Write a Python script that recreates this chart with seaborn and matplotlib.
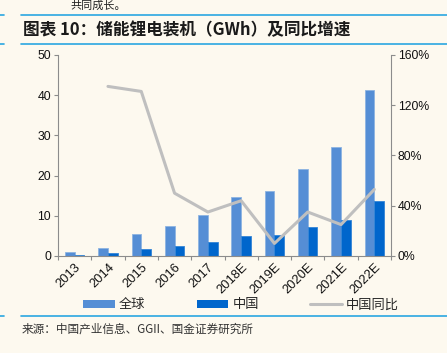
import numpy as np
import pandas as pd
import matplotlib
matplotlib.use("Agg")
import matplotlib.pyplot as plt
import seaborn as sns
from matplotlib.patches import Patch
from matplotlib.lines import Line2D
from matplotlib.ticker import FuncFormatter, FixedLocator

years = ["2013", "2014", "2015", "2016", "2017", "2018E", "2019E", "2020E", "2021E", "2022E"]
global_gwh = [1.0, 1.9, 5.4, 7.4, 10.3, 14.8, 16.2, 21.7, 27.0, 41.2]
china_gwh = [0.3, 0.7, 1.7, 2.5, 3.4, 4.9, 5.2, 7.2, 8.9, 13.6]
china_yoy = [np.nan, 135, 131, 50, 35, 44, 10, 35, 25, 53]

series_names = ["全球", "中国", "中国同比"]
title = "图表 10：储能锂电装机（GWh）及同比增速"
source = "来源：中国产业信息、GGII、国金证券研究所"

bg = "#FDF9EF"
c_global = "#558ED5"
c_china = "#0066CC"
c_line = "#BFBFBF"
c_rule = "#2AA7E1"

sns.set_theme(style="white")
plt.rcParams["font.family"] = ["Liberation Sans", "Noto Sans CJK SC", "DejaVu Sans"]
cjk = ["Noto Sans CJK SC", "DejaVu Sans"]

df = pd.DataFrame({"year": years * 2,
                   "val": global_gwh + china_gwh,
                   "s": [series_names[0]] * len(years) + [series_names[1]] * len(years)})

fig = plt.figure(figsize=(4.47, 3.53), dpi=100, facecolor=bg)
ax = fig.add_axes([0.1298, 0.2748, 0.7449, 0.5694])
ax.set_facecolor(bg)

sns.barplot(data=df, x="year", y="val", hue="s", palette=[c_global, c_china],
            width=0.58, saturation=1, ax=ax, legend=False, edgecolor="none")
for p, col in zip(ax.patches, [c_global] * 10 + [c_china] * 10):
    p.set_edgecolor("#8DB4E2" if col == c_global else "#3385D6")
    p.set_linewidth(0.6)

ax.set_xlim(-0.5, len(years) - 0.5)
ax.set_ylim(0, 50)
ax.set_yticks(range(0, 51, 10))
ax.set_xlabel("")
ax.set_ylabel("")

ax2 = ax.twinx()
sns.lineplot(x=np.arange(len(years)), y=china_yoy, color=c_line, linewidth=2.2, ax=ax2)
ax2.set_ylim(0, 160)
ax2.set_yticks(range(0, 161, 40))
ax2.yaxis.set_major_formatter(FuncFormatter(lambda v, _: f"{v:.0f}%"))

for a in (ax, ax2):
    a.spines["top"].set_visible(False)
    for side in ("left", "right", "bottom"):
        a.spines[side].set_color("#8C8C8C")
        a.spines[side].set_linewidth(0.8)
ax.spines["right"].set_visible(False)
ax2.spines["left"].set_visible(False)
ax2.spines["bottom"].set_visible(False)

ax.tick_params(axis="y", direction="out", length=3, width=0.8, color="#8C8C8C",
               labelsize=8.8, pad=2, left=True, labelcolor="#111111")
ax2.tick_params(axis="y", direction="out", length=3, width=0.8, color="#8C8C8C",
                labelsize=8.8, pad=2, right=True, labelcolor="#111111")

ax.xaxis.set_minor_locator(FixedLocator(np.arange(-0.5, len(years), 1)))
ax.tick_params(axis="x", which="minor", direction="out", length=3, width=0.8,
               color="#8C8C8C", bottom=True)
ax.tick_params(axis="x", which="major", length=0, pad=4, labelsize=9.3, labelcolor="#111111")
for lbl in ax.get_xticklabels():
    lbl.set_rotation(45)
    lbl.set_ha("right")
    lbl.set_va("top")
    lbl.set_rotation_mode("anchor")

handles = [Patch(facecolor=c_global, edgecolor="none"),
           Patch(facecolor=c_china, edgecolor="none"),
           Line2D([0], [0], color=c_line, lw=2.2)]
leg = fig.legend(handles, series_names, loc="center left", bbox_to_anchor=(0.186, 0.136),
                 ncol=3, frameon=False, fontsize=9.5, handlelength=2.4, handleheight=0.5,
                 handletextpad=0.3, columnspacing=3.9, borderpad=0, borderaxespad=0)
for t in leg.get_texts():
    t.set_fontfamily(cjk)

# page rules
for yy in (15, 44, 316):
    y = 1 - yy / 353
    fig.add_artist(Line2D([21 / 447, 1], [y, y], color=c_rule, lw=1.2, transform=fig.transFigure))
    fig.add_artist(Line2D([0, 4 / 447], [y, y], color=c_rule, lw=1.2, transform=fig.transFigure))

fig.text(23 / 447, 1 - 30 / 353, title, fontsize=12, fontweight="bold", color="#1A1A1A",
         va="center", ha="left", family=cjk)
fig.text(22 / 447, 1 - 329 / 353, source, fontsize=8.4, color="#333333",
         va="center", ha="left", family=cjk)
fig.text(70 / 447, 1 - 6 / 353, "共同成长。", fontsize=8, color="#222222",
         va="center", ha="left", family=cjk)

fig.savefig("out.png", dpi=100, facecolor=bg)
